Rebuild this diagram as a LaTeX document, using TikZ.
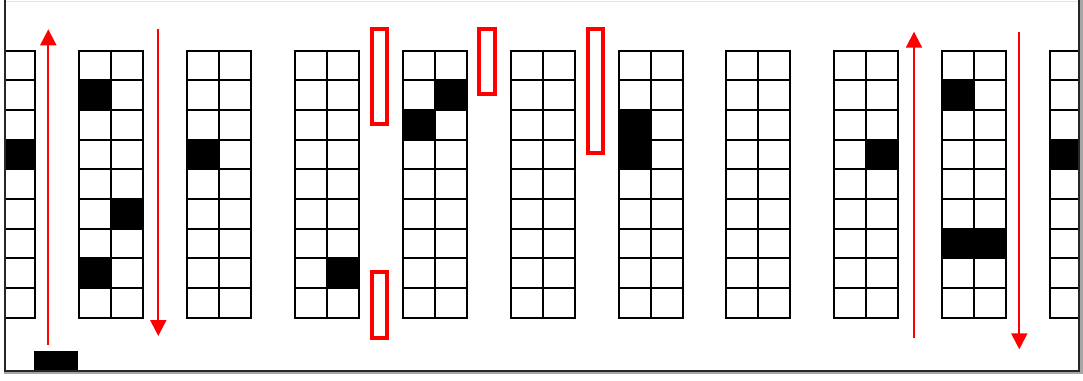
\documentclass[tikz,border=0pt]{standalone}
\usetikzlibrary{arrows.meta}
\tikzset{
  gridline/.style={line width=2pt, black, line cap=rect},
  fullcell/.style={fill=black},
  redarrow/.style={red, line width=2pt, -{Triangle[width=16pt,length=16pt]}},
  redbox/.style={draw=red, line width=3.2pt},
  framebox/.style={line width=2pt, black!85},
}
\begin{document}
\begin{tikzpicture}[x=1pt,y=-1pt]
\useasboundingbox (0,0) rectangle (1083,380);
\fill[white] (0,0) rectangle (1083,380);
% shadow
\fill[black!35] (1080,0) rectangle (1083,374);
\fill[black!35] (4,372) rectangle (1083,374);
\draw[black!10, line width=1pt] (5,1) -- (1079,1);
% racks, clipped to frame
\begin{scope}
\clip (5,0) rectangle (1078,371);
\foreach \r/\c/\w in {0/2/4, 1/1/2, 1/2/6, 1/1/8, 2/1/4, 3/2/8, 4/2/2, 4/1/3, 6/1/3, 6/1/4, 8/2/4, 9/1/2, 9/1/7, 9/2/7, 10/1/4}{
  \fill[fullcell] ({79+(\r-1)*107.9+(\c-1)*32}, {50.7+(\w-1)*29.67}) rectangle ++(32,29.67);
}
\foreach \r in {0,...,10}{
  \pgfmathsetmacro\xl{79+(\r-1)*107.9}
  \foreach \k in {0,...,9}{
    \draw[gridline] (\xl,{50.7+\k*29.67}) -- ++(64,0);
  }
  \foreach \k in {0,1,2}{
    \draw[gridline] ({\xl+\k*32},50.7) -- ({\xl+\k*32},317.7);
  }
}
\end{scope}
% bottom black block
\fill[black] (34,351) rectangle (78,371);
% frame
\draw[framebox] (4.5,0) -- (4.5,371) -- (1079,371) -- (1079,0);
% arrows
\coordinate (a1s) at (48.3,345);   \coordinate (a1e) at (48.3,29.3);
\coordinate (a2s) at (158.3,29.3); \coordinate (a2e) at (158.3,336);
\coordinate (a3s) at (914,338.3);  \coordinate (a3e) at (914,31.7);
\coordinate (a4s) at (1019.3,31.7);\coordinate (a4e) at (1019.3,349.3);
\draw[redarrow] (a1s) -- (a1e);
\draw[redarrow] (a2s) -- (a2e);
\draw[redarrow] (a3s) -- (a3e);
\draw[redarrow] (a4s) -- (a4e);
% red boxes
\draw[redbox] (372,29) rectangle (387,124);
\draw[redbox] (372,272) rectangle (387,338);
\draw[redbox] (479,29) rectangle (495,94);
\draw[redbox] (588,29) rectangle (603,153);
\end{tikzpicture}
\end{document}
